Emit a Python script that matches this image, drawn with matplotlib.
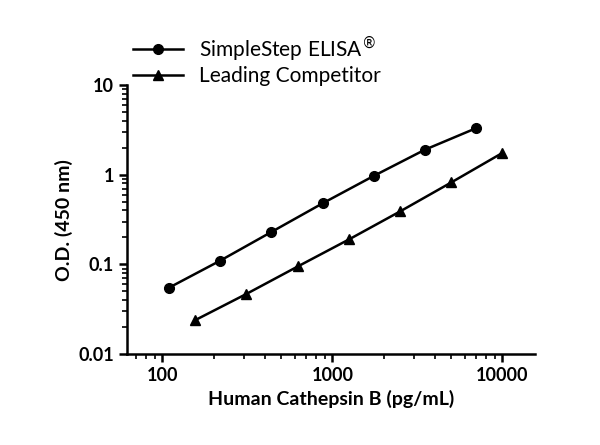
import matplotlib
matplotlib.use("Agg")
import matplotlib.pyplot as plt
from matplotlib.ticker import FixedLocator, FixedFormatter, LogLocator, NullFormatter

plt.rcParams["font.family"] = "Lato"

x_simple = [109, 218, 437, 875, 1750, 3500, 7000]
y_simple = [0.055, 0.11, 0.23, 0.48, 0.97, 1.9, 3.3]
x_comp = [156, 312, 625, 1250, 2500, 5000, 10000]
y_comp = [0.024, 0.047, 0.095, 0.19, 0.39, 0.82, 1.75]
labels = ["SimpleStep ELISA$^{\\circledR}$", "Leading Competitor"]
xticks = [100, 1000, 10000]
xticklabels = ["100", "1000", "10000"]
yticks = [0.01, 0.1, 1, 10]
yticklabels = ["0.01", "0.1", "1", "10"]

fig = plt.figure(figsize=(6, 4.45), dpi=100)
ax = fig.add_axes([0.212, 0.204, 0.68, 0.605])
l1, = ax.plot(x_simple, y_simple, "-o", color="black", lw=1.8, ms=7, label=labels[0])
l2, = ax.plot(x_comp, y_comp, "-^", color="black", lw=1.8, ms=7, label=labels[1])
ax.set_xscale("log"); ax.set_yscale("log")
ax.set_xlim(62, 15600); ax.set_ylim(0.01, 10)
ax.xaxis.set_major_locator(FixedLocator(xticks))
ax.xaxis.set_major_formatter(FixedFormatter(xticklabels))
ax.xaxis.set_minor_locator(LogLocator(base=10, subs=range(2, 10)))
ax.xaxis.set_minor_formatter(NullFormatter())
ax.yaxis.set_major_locator(FixedLocator(yticks))
ax.yaxis.set_major_formatter(FixedFormatter(yticklabels))
ax.yaxis.set_minor_locator(LogLocator(base=10, subs=range(2, 10)))
ax.yaxis.set_minor_formatter(NullFormatter())
for s in ["top", "right"]:
    ax.spines[s].set_visible(False)
for s in ["left", "bottom"]:
    ax.spines[s].set_linewidth(1.8)
ax.tick_params(which="major", width=1.8, length=6, labelsize=13)
ax.tick_params(which="minor", width=1.2, length=3.5)
for t in ax.get_xticklabels() + ax.get_yticklabels():
    t.set_fontweight("bold")
ax.set_xlabel("Human Cathepsin B (pg/mL)", fontsize=14, fontweight="bold")
ax.set_ylabel("O.D. (450 nm)", fontsize=14, fontweight="bold")
fig.legend(handles=[l1, l2], loc="upper left", bbox_to_anchor=(0.19, 0.965),
           frameon=False, fontsize=15, handlelength=2.4, labelspacing=0.1)
fig.savefig("out.png", dpi=100)
